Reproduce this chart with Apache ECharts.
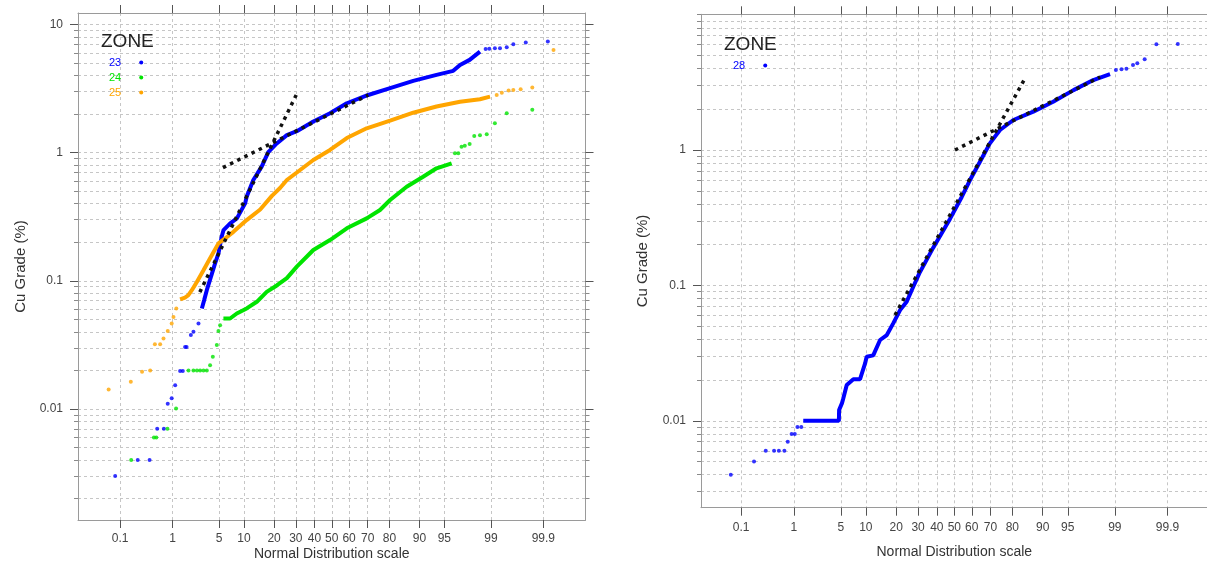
<!DOCTYPE html>
<html>
<head>
<meta charset="utf-8">
<script src="https://cdn.jsdelivr.net/npm/echarts@6/dist/echarts.min.js"></script>
<style>
  html, body { margin: 0; padding: 0; background: #ffffff; }
  #chart { width: 1207px; height: 565px; }
</style>
</head>
<body>
<div id="chart"></div>
<script>
// Cumulative probability (%) on a normal-probability x scale, Cu grade (%) on a log y scale.

// ---- axis ticks -------------------------------------------------------------
const probTicks  = [0.1, 1, 5, 10, 20, 30, 40, 50, 60, 70, 80, 90, 95, 99, 99.9];
const probLabels = ['0.1', '1', '5', '10', '20', '30', '40', '50', '60', '70', '80', '90', '95', '99', '99.9'];
const gradeLabelValues = [0.01, 0.1, 1, 10];
const gradeLabels      = ['0.01', '0.1', '1', '10'];

// ---- left panel: zones 23, 24, 25 ------------------------------------------
// zone 23
const z23LowPct  = [0.078, 0.23, 0.39, 0.54, 0.71, 0.83, 0.97, 1.11, 1.34, 1.48, 1.61, 1.70, 1.98, 2.17, 2.58];
const z23LowCu   = [0.003, 0.004, 0.004, 0.007, 0.007, 0.011, 0.0121, 0.0153, 0.0198, 0.0198, 0.0305, 0.0305, 0.0377, 0.040, 0.0465];
const z23BodyPct = [2.89, 3.12, 3.40, 3.87, 4.42, 4.9, 5.4, 5.7, 6.9, 8.3, 10.3, 10.7, 12.6, 15.3, 17.7, 21.1, 25.6, 30.5, 39.4, 49, 58.7, 70.3, 80.3, 88.3, 93.7, 96.2, 96.95, 97.8, 98.48];
const z23BodyCu  = [0.0609, 0.0707, 0.0845, 0.107, 0.137, 0.164, 0.221, 0.249, 0.281, 0.307, 0.402, 0.453, 0.612, 0.778, 1.01, 1.18, 1.37, 1.47, 1.75, 2.03, 2.43, 2.82, 3.19, 3.63, 4.05, 4.35, 4.84, 5.3, 6.15];
const z23HighPct = [98.77, 98.93, 99.14, 99.30, 99.47, 99.60, 99.77, 99.92];
const z23HighCu  = [6.43, 6.46, 6.54, 6.54, 6.66, 7.03, 7.23, 7.36];

// zone 24
const z24LowPct  = [0.17, 0.47, 0.52, 0.82, 1.15, 1.82, 2.17, 2.45, 2.73, 3.05, 3.4, 3.78, 4.12, 4.66, 4.9, 5.15];
const z24LowCu   = [0.004, 0.006, 0.006, 0.007, 0.0101, 0.02, 0.02, 0.02, 0.02, 0.02, 0.02, 0.0219, 0.0255, 0.0315, 0.0405, 0.045];
const z24BodyPct = [5.68, 6.88, 8.27, 10.7, 13.7, 17.1, 21.1, 25.6, 30.5, 39.4, 49, 58.7, 69.5, 75.96, 80.3, 86.3, 90.9, 93.7, 96.0];
const z24BodyCu  = [0.0508, 0.0508, 0.0556, 0.0609, 0.0686, 0.082, 0.092, 0.105, 0.129, 0.174, 0.208, 0.257, 0.307, 0.357, 0.427, 0.542, 0.649, 0.755, 0.826];
const z24HighPct = [96.4, 96.77, 97.1, 97.4, 97.8, 98.13, 98.48, 98.82, 99.14, 99.47, 99.83];
const z24HighCu  = [0.99, 0.99, 1.11, 1.13, 1.17, 1.35, 1.37, 1.39, 1.70, 2.03, 2.16];

// zone 25
const z25LowPct  = [0.056, 0.167, 0.28, 0.40, 0.49, 0.61, 0.70, 0.83, 0.97, 1.04, 1.16];
const z25LowCu   = [0.0142, 0.0163, 0.0195, 0.020, 0.032, 0.032, 0.0355, 0.0405, 0.0465, 0.0523, 0.0609];
const z25BodyPct = [1.34, 1.6, 1.8, 2.05, 2.44, 3.05, 3.78, 4.9, 5.96, 7.55, 10.7, 14.8, 19.1, 22.5, 25.6, 30.5, 39.4, 49, 58.7, 69.5, 80.3, 88.3, 93.7, 96.95, 98.48, 98.96];
const z25BodyCu  = [0.0716, 0.074, 0.077, 0.0845, 0.098, 0.121, 0.15, 0.196, 0.214, 0.241, 0.298, 0.36, 0.46, 0.53, 0.612, 0.70, 0.877, 1.05, 1.30, 1.55, 1.78, 2.05, 2.29, 2.50, 2.61, 2.74];
const z25HighPct = [99.2, 99.35, 99.51, 99.6, 99.71, 99.83, 99.94];
const z25HighCu  = [2.82, 2.94, 3.05, 3.09, 3.13, 3.22, 6.34];

// straight-line fits (two populations) for zone 23
const fitA23Pct = [5.6, 70.3];
const fitA23Cu  = [0.764, 2.82];
const fitB23Pct = [2.7, 30.2];
const fitB23Cu  = [0.0816, 2.82];

// ---- right panel: zone 28 ---------------------------------------------------
const z28LowPct  = [0.06, 0.185, 0.314, 0.45, 0.55, 0.69, 0.79, 0.92, 1.04, 1.15, 1.33];
const z28LowCu   = [0.004, 0.005, 0.006, 0.006, 0.006, 0.006, 0.007, 0.008, 0.008, 0.009, 0.009];
const z28BodyPct = [1.43, 4.72, 4.75, 5.18, 5.38, 5.95, 7.17, 8.6, 9.8, 10.2, 12.0, 14.1, 16.4, 18.8, 21.6, 24.5, 27.6, 30.6, 38, 47.5, 54.3, 59, 64.5, 69.7, 74.6, 80.4, 87.4, 92.4, 95.8, 97.8, 98.8];
const z28BodyCu  = [0.01, 0.01, 0.012, 0.0135, 0.0146, 0.0184, 0.0203, 0.0203, 0.0265, 0.0297, 0.0304, 0.0395, 0.043, 0.0524, 0.0657, 0.0757, 0.0977, 0.1227, 0.19, 0.31, 0.45, 0.60, 0.82, 1.12, 1.406, 1.667, 1.92, 2.27, 2.77, 3.29, 3.64];
const z28HighPct = [99.04, 99.23, 99.37, 99.52, 99.6, 99.71, 99.83, 99.94];
const z28HighCu  = [3.90, 3.95, 3.99, 4.25, 4.37, 4.68, 6.04, 6.07];

const fitC28Pct = [50.4, 98.27];
const fitC28Cu  = [1.0, 3.46];
const fitD28Pct = [19.5, 84.4];
const fitD28Cu  = [0.0604, 3.29];

// ---- colours ----------------------------------------------------------------
const BLUE = '#0000ff', GREEN = '#00e400', ORANGE = '#ffa500';

// Inverse standard normal CDF (Acklam), used as the probability-axis transform.
function probit(p) {
  const a = [-3.969683028665376e+01, 2.209460984245205e+02, -2.759285104469687e+02, 1.383577518672690e+02, -3.066479806614716e+01, 2.506628277459239e+00];
  const b = [-5.447609879822406e+01, 1.615858368580409e+02, -1.556989798598866e+02, 6.680131188771972e+01, -1.328068155288572e+01];
  const c = [-7.784894002430293e-03, -3.223964580411365e-01, -2.400758277161838e+00, -2.549732539343734e+00, 4.374664141464968e+00, 2.938163982698783e+00];
  const d = [7.784695709041462e-03, 3.224671290700398e-01, 2.445134137142996e+00, 3.754408661907416e+00];
  const pLow = 0.02425, pHigh = 1 - pLow;
  let q, r;
  if (p < pLow) {
    q = Math.sqrt(-2 * Math.log(p));
    return (((((c[0]*q+c[1])*q+c[2])*q+c[3])*q+c[4])*q+c[5]) / ((((d[0]*q+d[1])*q+d[2])*q+d[3])*q+1);
  }
  if (p <= pHigh) {
    q = p - 0.5; r = q * q;
    return (((((a[0]*r+a[1])*r+a[2])*r+a[3])*r+a[4])*r+a[5])*q / (((((b[0]*r+b[1])*r+b[2])*r+b[3])*r+b[4])*r+1);
  }
  q = Math.sqrt(-2 * Math.log(1 - p));
  return -(((((c[0]*q+c[1])*q+c[2])*q+c[3])*q+c[4])*q+c[5]) / ((((d[0]*q+d[1])*q+d[2])*q+d[3])*q+1);
}

// (cumulative %, grade) -> (normal score, log10 grade) for the two value axes
function points(pcts, grades) {
  return pcts.map((p, i) => [probit(p / 100), Math.log10(grades[i])]);
}

const probTickZ = probTicks.map(p => probit(p / 100));
function probLabel(z) {
  for (let i = 0; i < probTickZ.length; i++) {
    if (Math.abs(probTickZ[i] - z) < 1e-6) return probLabels[i];
  }
  return '';
}
const gradeLabelLogs = gradeLabelValues.map(v => Math.log10(v));
function gradeLabel(v) {
  for (let i = 0; i < gradeLabelLogs.length; i++) {
    if (Math.abs(gradeLabelLogs[i] - v) < 1e-6) return gradeLabels[i];
  }
  return '';
}
// 1..9 x each decade, in log10 units, inside [gMin, gMax]
function logGridValues(gMin, gMax) {
  const out = [];
  for (let e = -4; e <= 1; e++) {
    for (let k = 1; k <= 9; k++) {
      const v = k * Math.pow(10, e);
      if (v >= gMin && v <= gMax) out.push(Math.log10(v));
    }
  }
  return out;
}

const FONT = '"Liberation Sans", Arial, sans-serif';
const FRAME = '#9a9a9a', TICK = '#555555', GRID = '#c6c6c6';

function panelAxes(gi, zMax, gMin, gMax, topDecade, xLabelMargin, xNameGap, yNameGap) {
  const yMin = Math.log10(gMin), yMax = Math.log10(gMax);
  const minorY = logGridValues(gMin, gMax);
  const majorY = gradeLabelLogs.filter(v => v >= yMin && v <= Math.log10(topDecade) + 1e-9);
  const baseX = { type: 'value', gridIndex: gi, min: -zMax, max: zMax };
  const baseY = { type: 'value', gridIndex: gi, min: yMin, max: yMax };
  const xAxes = [
    Object.assign({}, baseX, {
      position: 'bottom',
      axisLine: { show: true, onZero: false, lineStyle: { color: FRAME, width: 1 } },
      axisTick: { show: true, customValues: probTickZ, length: 8, lineStyle: { color: TICK } },
      axisLabel: { customValues: probTickZ, formatter: probLabel, margin: xLabelMargin, fontSize: 12, color: '#444', fontFamily: FONT },
      splitLine: { show: true, lineStyle: { color: GRID, type: [3, 3], width: 1 } },
      name: 'Normal Distribution scale', nameLocation: 'middle', nameGap: xNameGap, nameMoveOverlap: false,
      nameTextStyle: { fontSize: 14, color: '#333', fontFamily: FONT }
    }),
    Object.assign({}, baseX, {
      position: 'top',
      axisLine: { show: true, onZero: false, lineStyle: { color: FRAME, width: 1 } },
      axisTick: { show: true, customValues: probTickZ, length: 8, lineStyle: { color: TICK } },
      axisLabel: { show: false },
      splitLine: { show: false }
    })
  ];
  const yAxes = [
    Object.assign({}, baseY, {
      position: 'left',
      axisLine: { show: true, onZero: false, lineStyle: { color: FRAME, width: 1 } },
      axisTick: { show: true, customValues: minorY, length: 4, lineStyle: { color: '#8a8a8a' } },
      axisLabel: { customValues: majorY, formatter: gradeLabel, margin: 15, fontSize: 12, color: '#444', fontFamily: FONT },
      splitLine: { show: true, lineStyle: { color: GRID, type: [3, 3], width: 1 } },
      name: 'Cu Grade (%)', nameLocation: 'middle', nameGap: yNameGap, nameRotate: 90, nameMoveOverlap: false,
      nameTextStyle: { fontSize: 15, color: '#333', fontFamily: FONT }
    }),
    Object.assign({}, baseY, {
      position: 'left',
      axisLine: { show: false, onZero: false },
      axisTick: { show: true, customValues: majorY, length: 8, lineStyle: { color: TICK } },
      axisLabel: { show: false },
      splitLine: { show: false }
    }),
    Object.assign({}, baseY, {
      position: 'right',
      axisLine: { show: true, onZero: false, lineStyle: { color: FRAME, width: 1 } },
      axisTick: { show: true, customValues: minorY, length: 4, lineStyle: { color: '#8a8a8a' } },
      axisLabel: { show: false },
      splitLine: { show: false }
    }),
    Object.assign({}, baseY, {
      position: 'right',
      axisLine: { show: false, onZero: false },
      axisTick: { show: true, customValues: majorY, length: 8, lineStyle: { color: TICK } },
      axisLabel: { show: false },
      splitLine: { show: false }
    })
  ];
  return { xAxes, yAxes };
}

const left = panelAxes(0, 3.706, 0.00136, 12.3, 10, 13, 27, 50);
const right = panelAxes(1, 3.671, 0.00228, 10.06, 1, 14, 37, 51);

function zoneSeries(name, color, xi, yi, low, body, high) {
  return [
    { type: 'line', name, xAxisIndex: xi, yAxisIndex: yi, data: body, symbol: 'none', showSymbol: false,
      lineStyle: { color, width: 4 }, itemStyle: { color }, z: 3, silent: true },
    { type: 'scatter', name, xAxisIndex: xi, yAxisIndex: yi, data: low.concat(high), symbol: 'circle',
      symbolSize: 4, itemStyle: { color }, z: 3, silent: true }
  ];
}
function fitSeries(name, xi, yi, data) {
  return { type: 'line', name, xAxisIndex: xi, yAxisIndex: yi, data, symbol: 'none', showSymbol: false,
    lineStyle: { color: '#111111', width: 3.5, type: [3.5, 4.5], cap: 'butt' }, z: 6, silent: true };
}

const series = [].concat(
  zoneSeries('23', BLUE, 0, 0, points(z23LowPct, z23LowCu), points(z23BodyPct, z23BodyCu), points(z23HighPct, z23HighCu)),
  zoneSeries('24', GREEN, 0, 0, points(z24LowPct, z24LowCu), points(z24BodyPct, z24BodyCu), points(z24HighPct, z24HighCu)),
  zoneSeries('25', ORANGE, 0, 0, points(z25LowPct, z25LowCu), points(z25BodyPct, z25BodyCu), points(z25HighPct, z25HighCu)),
  [fitSeries('fit A', 0, 0, points(fitA23Pct, fitA23Cu)), fitSeries('fit B', 0, 0, points(fitB23Pct, fitB23Cu))],
  zoneSeries('28', BLUE, 2, 4, points(z28LowPct, z28LowCu), points(z28BodyPct, z28BodyCu), points(z28HighPct, z28HighCu)),
  [fitSeries('fit C', 2, 4, points(fitC28Pct, fitC28Cu)), fitSeries('fit D', 2, 4, points(fitD28Pct, fitD28Cu))]
);

const legendBase = {
  orient: 'vertical', align: 'right', icon: 'circle', itemWidth: 30, itemHeight: 4, itemGap: 4,
  padding: 0, selectedMode: false, textStyle: { fontSize: 11, fontFamily: FONT }
};

const option = {
  animation: false,
  backgroundColor: '#ffffff',
  textStyle: { fontFamily: FONT },
  title: [
    { text: 'ZONE', left: 101, top: 32, padding: 0, textStyle: { fontSize: 19, fontWeight: 'normal', color: '#222', fontFamily: FONT } },
    { text: 'ZONE', left: 724, top: 35, padding: 0, textStyle: { fontSize: 19, fontWeight: 'normal', color: '#222', fontFamily: FONT } }
  ],
  legend: [
    Object.assign({}, legendBase, { left: 109, top: 57, data: [
      { name: '23', textStyle: { color: BLUE } },
      { name: '24', textStyle: { color: GREEN } },
      { name: '25', textStyle: { color: ORANGE } }
    ] }),
    Object.assign({}, legendBase, { left: 733, top: 60, data: [
      { name: '28', textStyle: { color: BLUE } }
    ] })
  ],
  grid: [
    { left: 78, top: 13, width: 507.5, height: 507, containLabel: false, outerBoundsMode: 'none' },
    { left: 701, top: 14.3, width: 506.6, height: 493.4, containLabel: false, outerBoundsMode: 'none' }
  ],
  xAxis: left.xAxes.concat(right.xAxes),
  yAxis: left.yAxes.concat(right.yAxes),
  series
};

const chart = echarts.init(document.getElementById('chart'), null, { renderer: 'canvas' });
chart.setOption(option);
</script>
</body>
</html>
